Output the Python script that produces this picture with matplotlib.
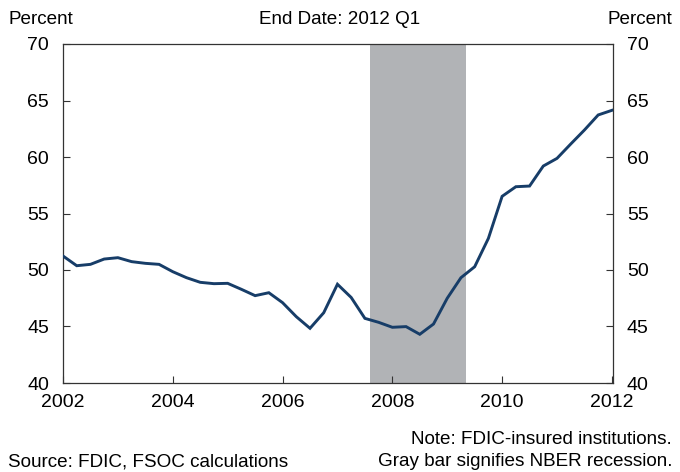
import matplotlib
matplotlib.use("Agg")
import matplotlib.pyplot as plt
import numpy as np

plt.rcParams['font.family'] = ['Liberation Sans', 'DejaVu Sans']

start_year = 2002.0
quarter_step = 0.25
values = [51.24, 50.38, 50.50, 50.97, 51.09, 50.74, 50.59, 50.50, 49.85, 49.32,
          48.91, 48.79, 48.82, 48.29, 47.73, 47.99, 47.11, 45.87, 44.84, 46.22,
          48.74, 47.57, 45.72, 45.37, 44.93, 44.99, 44.31, 45.22, 47.50, 49.32,
          50.29, 52.80, 56.52, 57.37, 57.43, 59.20, 59.88, 61.15, 62.39, 63.72,
          64.13]
recession = (2007.60, 2009.35)
xticks = [2002, 2004, 2006, 2008, 2010, 2012]
yticks = [40, 45, 50, 55, 60, 65, 70]

x = start_year + quarter_step * np.arange(len(values))

W, H = 680, 472
fig = plt.figure(figsize=(W / 100, H / 100), dpi=100)
ax = fig.add_axes([63 / W, 1 - 383 / H, (613 - 63) / W, (383 - 44) / H])

ax.axvspan(recession[0], recession[1], color='#b1b3b6', lw=0, zorder=1)
ax.plot(x, values, color='#173d68', lw=2.1, zorder=3, solid_joinstyle='miter')

ax.set_xlim(2002, 2012.02)
ax.set_ylim(40, 70)
ax.set_xticks(xticks)
ax.set_yticks(yticks)
fs = 14
ax.tick_params(axis='x', direction='in', length=5, width=0.8, labelsize=fs, pad=8, color='#333333')
ax.tick_params(axis='y', direction='in', length=5, width=0.8, labelsize=fs, pad=10,
               left=True, right=True, labelleft=True, labelright=True, color='#333333')
for s in ax.spines.values():
    s.set_color('#333333')
    s.set_linewidth(0.9)

fs2 = 13.6
fig.text(8 / W, 1 - 19 / H, 'Percent', fontsize=fs2, ha='left', va='center')
fig.text(672 / W, 1 - 19 / H, 'Percent', fontsize=fs2, ha='right', va='center')
fig.text(340 / W, 1 - 19 / H, 'End Date: 2012 Q1', fontsize=fs2, ha='center', va='center')
fig.text(672 / W, 1 - 440 / H, 'Note: FDIC-insured institutions.', fontsize=fs2, ha='right', va='center')
fig.text(672 / W, 1 - 462 / H, 'Gray bar signifies NBER recession.', fontsize=fs2, ha='right', va='center')
fig.text(8 / W, 1 - 462 / H, 'Source: FDIC, FSOC calculations', fontsize=fs2, ha='left', va='center')

fig.savefig('out.png', dpi=100)
